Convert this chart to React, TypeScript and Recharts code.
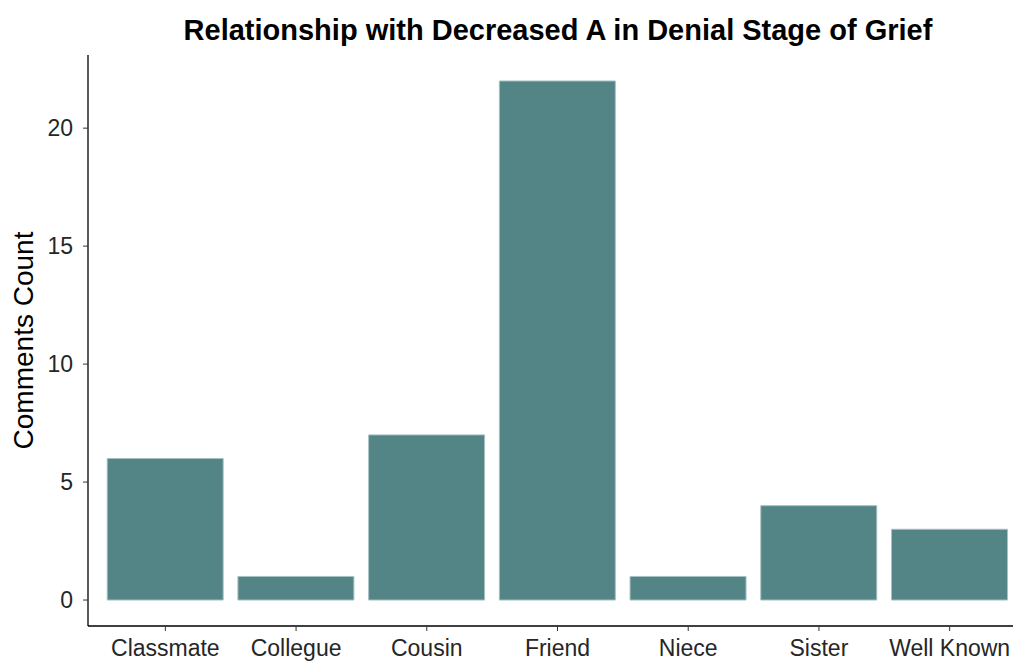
import { BarChart, Bar, XAxis, YAxis, Label } from 'recharts';

const relationships = ['Classmate', 'Collegue', 'Cousin', 'Friend', 'Niece', 'Sister', 'Well Known'];
const commentCounts = [6, 1, 7, 22, 1, 4, 3];
const yTicks = [0, 5, 10, 15, 20];

const data = relationships.map((name, i) => ({ name, count: commentCounts[i] }));

const FONT = '"Liberation Sans", Arial, sans-serif';

const YTitle = (props: any) => {
  const vb = props.viewBox || {};
  const cx = (vb.x ?? 0) + 33;
  const cy = (vb.y ?? 0) + (vb.height ?? 0) / 2;
  return (
    <text
      x={cx}
      y={cy}
      transform={`rotate(-90, ${cx}, ${cy})`}
      textAnchor="middle"
      fontFamily={FONT}
      fontSize={28}
      fill="#000"
    >
      Comments Count
    </text>
  );
};

const App = () => {
  return (
    <div
      style={{
        position: 'fixed',
        left: 0,
        top: 0,
        width: 1013,
        height: 661,
        overflow: 'hidden',
        background: '#fff',
      }}
    >
      <div
        style={{
          position: 'absolute',
          left: 88,
          top: 16,
          width: 940,
          textAlign: 'center',
          fontFamily: FONT,
          fontWeight: 'bold',
          fontSize: 29,
          lineHeight: '28px',
          color: '#000',
          zIndex: 2,
        }}
      >
        Relationship with Decreased A in Denial Stage of Grief
      </div>
      <BarChart
        width={1040}
        height={661}
        data={data}
        margin={{ top: 55, right: 12, bottom: 0, left: 0 }}
        barCategoryGap="5.5%"
      >
        <XAxis
          dataKey="name"
          height={35}
          padding={{ left: 12, right: 13 }}
          axisLine={{ stroke: '#000', strokeWidth: 1.3 }}
          tickLine={{ stroke: '#333' }}
          tickSize={5}
          tickMargin={9}
          interval={0}
          tick={{ fontSize: 23, fill: '#262626', fontFamily: FONT }}
        />
        <YAxis
          width={88}
          domain={[-1.1, 23.1]}
          ticks={yTicks}
          allowDataOverflow
          axisLine={{ stroke: '#000', strokeWidth: 1.3 }}
          tickLine={{ stroke: '#333' }}
          tickSize={5}
          tickMargin={10}
          tick={{ fontSize: 23, fill: '#262626', fontFamily: FONT }}
        >
          <Label content={<YTitle />} />
        </YAxis>
        <Bar
          dataKey="count"
          fill="#538587"
          stroke="#a8c2c3"
          strokeWidth={1}
          isAnimationActive={false}
        />
      </BarChart>
    </div>
  );
};

export default App;
